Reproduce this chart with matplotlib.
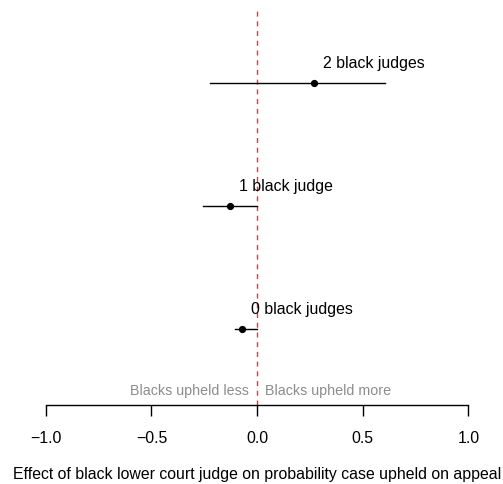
import matplotlib
matplotlib.use("Agg")
import matplotlib.pyplot as plt

# point estimates and intervals, one row per number of black judges on panel
labels = ["0 black judges", "1 black judge", "2 black judges"]
rows = [1, 2, 3]
est = [-0.072, -0.128, 0.271]
lo = [-0.104, -0.256, -0.222]
hi = [0.0, 0.0, 0.607]

xticks = [-1.0, -0.5, 0.0, 0.5, 1.0]
xticklabels = ["\u22121.0", "\u22120.5", "0.0", "0.5", "1.0"]

plt.rcParams["font.family"] = ["Liberation Sans", "DejaVu Sans"]

fig = plt.figure(figsize=(5.03, 4.85), dpi=100)
ax = fig.add_axes([0.0573, 0.1629, 0.9074, 0.8212])
ax.set_xlim(-1.08, 1.08)
ax.set_ylim(0.38, 3.62)

ax.axvline(0, color="#ff2a35", lw=1.0, dashes=(3.6, 3.4), zorder=1)

for r, e, l, h, lab in zip(rows, est, lo, hi, labels):
    ax.plot([l, h], [r, r], color="black", lw=1.0, zorder=2)
    ax.plot(e, r, "o", color="black", ms=4.2, zorder=3)
    ax.text(e + 0.042, r + 0.163, lab, ha="left", va="center", fontsize=11.4)

ax.text(-0.04, 0.505, "Blacks upheld less", ha="right", va="center",
        fontsize=10.3, color="#8c8c8c")
ax.text(0.04, 0.505, "Blacks upheld more", ha="left", va="center",
        fontsize=10.3, color="#8c8c8c")

for s in ["top", "right", "left"]:
    ax.spines[s].set_visible(False)
ax.spines["bottom"].set_bounds(-1.0, 1.0)
ax.spines["bottom"].set_linewidth(1.0)
ax.set_yticks([])
ax.set_xticks(xticks)
ax.set_xticklabels(xticklabels, fontsize=11.4)
ax.tick_params(axis="x", length=8, width=1.0, pad=10)
ax.set_xlabel("Effect of black lower court judge on probability case upheld on appeal",
              fontsize=11.4, labelpad=15)

fig.savefig("out.png", dpi=100)
